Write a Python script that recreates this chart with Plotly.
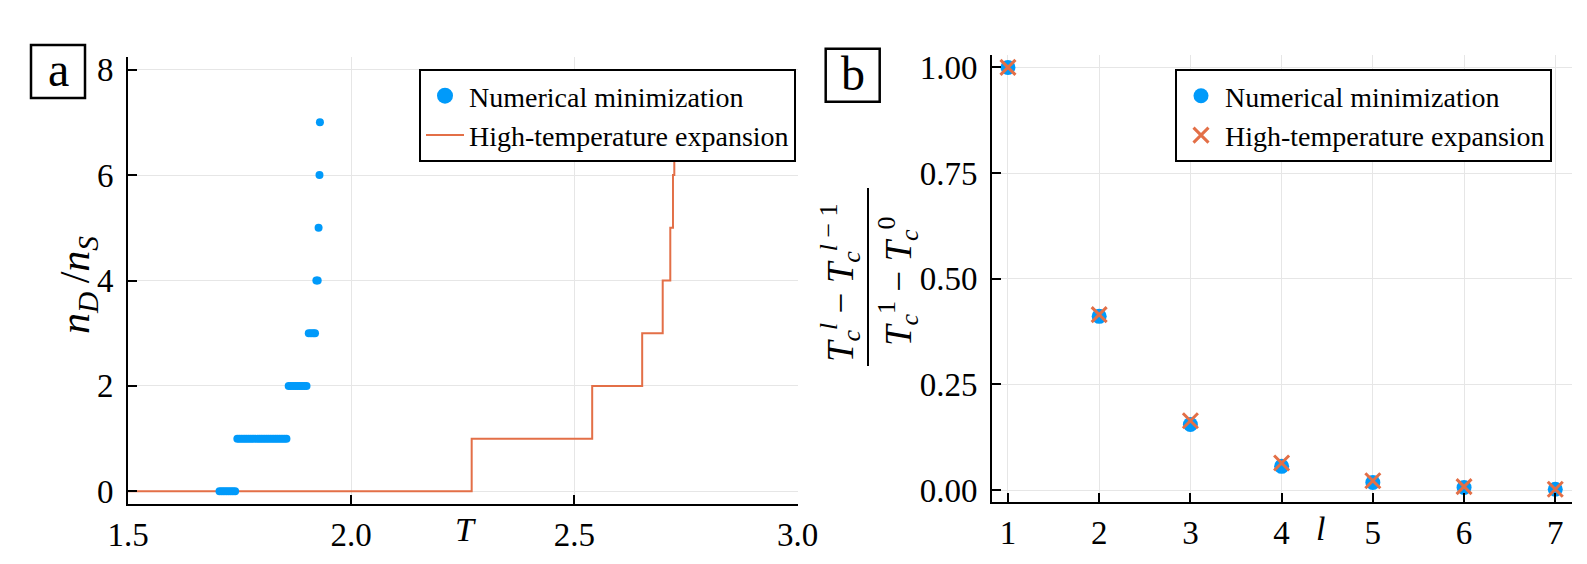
import plotly.graph_objects as go

W, H = 1587, 564
BLUE = "#009AFA"
ORANGE = "#E36F47"
SERIF = "Liberation Serif, DejaVu Serif, serif"

# --- panel a: n_D/n_S vs T -------------------------------------------------
# numerical minimization, T values read off for each level of n_D/n_S
T_lvl0 = [1.705, 1.710, 1.715, 1.720, 1.725, 1.730, 1.735, 1.740]
T_lvl1 = [1.745, 1.750, 1.755, 1.760, 1.765, 1.770, 1.775, 1.780, 1.785,
          1.790, 1.795, 1.800, 1.805, 1.810, 1.815, 1.820, 1.825, 1.830,
          1.835, 1.840, 1.845, 1.850, 1.855]
T_lvl2 = [1.860, 1.865, 1.870, 1.875, 1.880, 1.885, 1.890, 1.895, 1.900]
T_lvl3 = [1.905, 1.910, 1.915, 1.919]
T_lvl4 = [1.922, 1.925]
T_lvl5 = [1.927]
T_lvl6 = [1.929]
T_lvl7 = [1.930]
levels_num = [0, 1, 2, 3, 4, 5, 6, 7]

# high-temperature expansion (step function, jump points)
T_ht = [1.5, 2.270, 2.540, 2.652, 2.698, 2.715, 2.721, 2.724, 2.726]
ratio_ht = [0, 1, 2, 3, 4, 5, 6, 7, 8]

T_ticks = [1.5, 2.0, 2.5, 3.0]
T_ticktext = ["1.5", "2.0", "2.5", "3.0"]
ratio_ticks = [0, 2, 4, 6, 8]

# --- panel b: relative shift of T_c with l -----------------------------------
l_vals = [1, 2, 3, 4, 5, 6, 7]
shift_num = [1.000, 0.411, 0.155, 0.056, 0.018, 0.006, 0.002]
shift_ht = [1.000, 0.415, 0.164, 0.064, 0.022, 0.008, 0.002]
shift_ticks = [0.0, 0.25, 0.5, 0.75, 1.0]
shift_ticktext = ["0.00", "0.25", "0.50", "0.75", "1.00"]


def px(x):
    return x / W


def py(y):
    return 1 - y / H


T_num, ratio_num = [], []
for lvl, ts in zip(levels_num, [T_lvl0, T_lvl1, T_lvl2, T_lvl3, T_lvl4,
                                T_lvl5, T_lvl6, T_lvl7]):
    T_num += ts
    ratio_num += [lvl] * len(ts)

fig = go.Figure()

# panel a
fig.add_trace(go.Scatter(x=T_ht, y=ratio_ht, mode="lines", line_shape="hv",
                         line=dict(color=ORANGE, width=2),
                         name="High-temperature expansion",
                         xaxis="x", yaxis="y", legend="legend", legendrank=2))
fig.add_trace(go.Scatter(x=T_num, y=ratio_num, mode="markers",
                         marker=dict(color=BLUE, size=8),
                         showlegend=False, xaxis="x", yaxis="y"))
# bigger marker for the legend entry only
fig.add_trace(go.Scatter(x=[None], y=[None], mode="markers",
                         marker=dict(color=BLUE, size=16),
                         name="Numerical minimization",
                         xaxis="x", yaxis="y", legend="legend", legendrank=1))

# panel b
fig.add_trace(go.Scatter(x=l_vals, y=shift_num, mode="markers",
                         marker=dict(color=BLUE, size=15),
                         name="Numerical minimization",
                         xaxis="x2", yaxis="y2", legend="legend2"))
fig.add_trace(go.Scatter(x=l_vals, y=shift_ht, mode="markers",
                         marker=dict(symbol="x-thin", size=15,
                                     line=dict(color=ORANGE, width=3)),
                         name="High-temperature expansion",
                         xaxis="x2", yaxis="y2", legend="legend2"))

axis_style = dict(showline=True, linecolor="black", linewidth=2,
                  ticks="inside", ticklen=9, tickwidth=1.5, tickcolor="black",
                  showgrid=True, gridcolor="#e6e6e6", gridwidth=1,
                  zeroline=False, automargin=False,
                  tickfont=dict(family=SERIF, size=33, color="black"))

legend_style = dict(xanchor="right", yanchor="top", bgcolor="white",
                    bordercolor="black", borderwidth=2, itemwidth=38,
                    font=dict(family=SERIF, size=28, color="black"))

fig.update_layout(
    width=W, height=H,
    margin=dict(l=0, r=0, t=0, b=0),
    plot_bgcolor="white", paper_bgcolor="white",
    xaxis=dict(domain=[px(120), px(789.5)], range=[1.5, 3.0],
               tickvals=T_ticks, ticktext=T_ticktext, anchor="y",
               **axis_style),
    yaxis=dict(domain=[py(496), py(49)], range=[-0.24, 8.24],
               tickvals=ratio_ticks, anchor="x", ticklabelstandoff=6,
               **axis_style),
    xaxis2=dict(domain=[px(984), px(1563.7)], range=[0.825, 7.18],
                tickvals=l_vals, anchor="y2", **axis_style),
    yaxis2=dict(domain=[py(494.3), py(46.7)], range=[-0.029, 1.03],
                tickvals=shift_ticks, ticktext=shift_ticktext, anchor="x2",
                ticklabelstandoff=6, **axis_style),
    legend=dict(x=px(788), y=py(61), **legend_style),
    legend2=dict(x=px(1544), y=py(61), **legend_style),
)


def label(text, x, y, size, angle=0):
    fig.add_annotation(text=text, xref="paper", yref="paper",
                       x=px(x), y=py(y), textangle=angle, showarrow=False,
                       xanchor="center", yanchor="middle",
                       font=dict(family=SERIF, size=size, color="black"))


# panel letters in boxes
for letter, x0, y0 in [("a", 23, 37), ("b", 817.7, 40.7)]:
    fig.add_shape(type="rect", xref="paper", yref="paper",
                  x0=px(x0), x1=px(x0 + 54), y0=py(y0 + 53), y1=py(y0),
                  line=dict(color="black", width=2.5), fillcolor="white")
    label(letter, x0 + 27, y0 + 25, 48)

# axis titles
label("<i>T</i>", 457, 521, 34)
label("<i>l</i>", 1312, 520, 34)
label("<i>n</i><sub><i>D</i></sub>\u2009/<i>n</i><sub><i>S</i></sub>",
      70, 277, 42, angle=-90)

# fraction label of panel b
label("<i>T</i><sub><i>c</i></sub><sup><i>l</i></sup> − "
      "<i>T</i><sub><i>c</i></sub><sup><i>l</i> − 1</sup>",
      832, 275, 37, angle=-90)
label("<i>T</i><sub><i>c</i></sub><sup>1</sup> − "
      "<i>T</i><sub><i>c</i></sub><sup>0</sup>",
      890, 273, 37, angle=-90)
fig.add_shape(type="line", xref="paper", yref="paper",
              x0=px(860), x1=px(860), y0=py(358), y1=py(180),
              line=dict(color="black", width=2))

fig.write_html("out.html")
